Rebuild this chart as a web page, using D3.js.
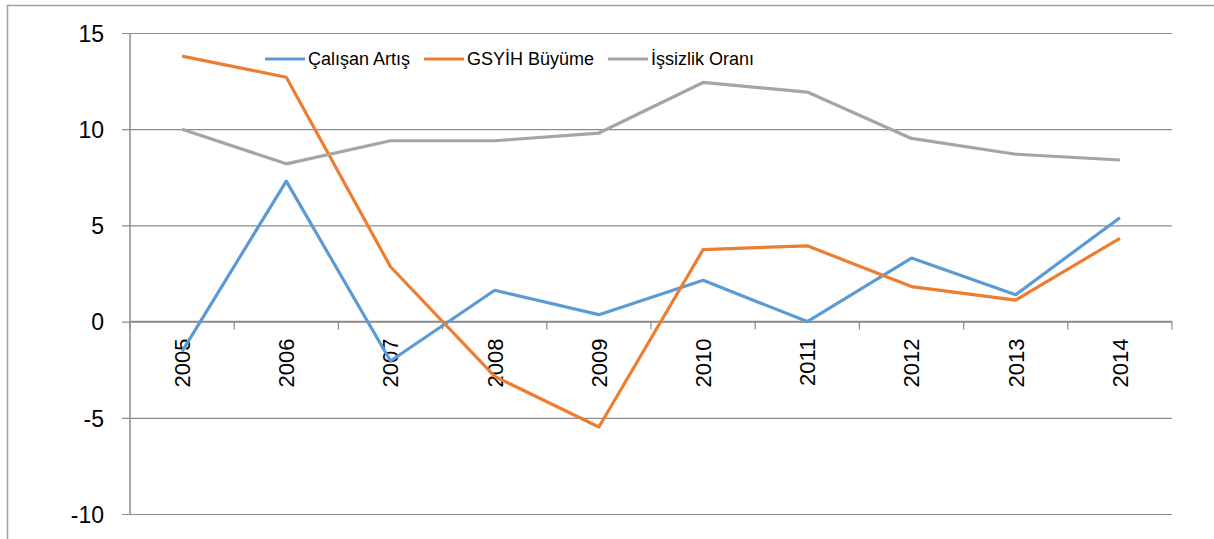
<!DOCTYPE html>
<html>
<head>
<meta charset="utf-8">
<script src="https://cdn.jsdelivr.net/npm/d3@7"></script>
<style>
  body { margin: 0; background: #fff; }
  svg text { font-family: "Liberation Sans", Arial, sans-serif; fill: #000; }
</style>
</head>
<body>
<svg id="chart" width="1214" height="539"></svg>
<script>
// data
var years = ["2005", "2006", "2007", "2008", "2009", "2010", "2011", "2012", "2013", "2014"];
var calisanArtis = [-1.55, 7.3, -2.05, 1.63, 0.36, 2.15, 0.0, 3.3, 1.4, 5.4];
var gsyihBuyume = [13.8, 12.7, 2.85, -2.85, -5.48, 3.74, 3.94, 1.82, 1.12, 4.33];
var issizlikOrani = [10.0, 8.2, 9.4, 9.4, 9.8, 12.43, 11.93, 9.52, 8.7, 8.4];
var yTicks = [-10, -5, 0, 5, 10, 15];

var seriesNames = ["Çalışan Artış", "GSYİH Büyüme", "İşsizlik Oranı"];
var seriesColors = ["#5B9BD5", "#ED7D31", "#A5A5A5"];
var seriesValues = [calisanArtis, gsyihBuyume, issizlikOrani];

var svg = d3.select("#chart");

// chart border (clipped at right / bottom like the screenshot)
svg.append("rect")
  .attr("x", 7.5).attr("y", 5.5)
  .attr("width", 1250).attr("height", 600)
  .attr("fill", "none")
  .attr("stroke", "#a0a0a0")
  .attr("stroke-width", 1.5);

var plot = {left: 130, right: 1172, top: 33, bottom: 514};

var x = d3.scaleBand()
  .domain(years)
  .range([plot.left, plot.right]);

var y = d3.scaleLinear()
  .domain([-10, 15])
  .range([plot.bottom, plot.top]);

// gridlines + y axis ticks
var yAxis = d3.axisLeft(y)
  .tickValues(yTicks)
  .tickSize(plot.right - plot.left + 8)
  .tickFormat(function(d) { return String(d); });

var gy = svg.append("g")
  .attr("transform", "translate(" + plot.right + ",0)")
  .call(yAxis);
gy.select(".domain").remove();
gy.selectAll(".tick line")
  .attr("stroke", "#8c8c8c")
  .attr("stroke-width", 1.2);
gy.selectAll(".tick text")
  .attr("x", -(plot.right - plot.left) - 26)
  .attr("dy", "0.36em")
  .style("font-size", "23px");

// vertical axis line
svg.append("line")
  .attr("x1", plot.left).attr("x2", plot.left)
  .attr("y1", y(15)).attr("y2", y(-10))
  .attr("stroke", "#8c8c8c")
  .attr("stroke-width", 1.5);

// category axis sits on zero
var zeroY = y(0);
var bounds = years.map(function(d) { return x(d); }).concat([plot.right]);
svg.append("g").selectAll("line")
  .data(bounds)
  .enter().append("line")
  .attr("x1", function(d) { return d; })
  .attr("x2", function(d) { return d; })
  .attr("y1", zeroY)
  .attr("y2", zeroY + 8)
  .attr("stroke", "#8c8c8c")
  .attr("stroke-width", 1.2);

svg.append("line")
  .attr("x1", plot.left).attr("x2", plot.right)
  .attr("y1", zeroY).attr("y2", zeroY)
  .attr("stroke", "#8c8c8c")
  .attr("stroke-width", 1.5);

svg.append("g").selectAll("text")
  .data(years)
  .enter().append("text")
  .attr("transform", function(d) {
    return "translate(" + (x(d) + x.bandwidth() / 2) + "," + (zeroY + 17) + ") rotate(-90)";
  })
  .attr("dy", "0.36em")
  .attr("text-anchor", "end")
  .style("font-size", "22px")
  .text(function(d) { return d; });

// lines
var line = d3.line()
  .x(function(d, i) { return x(years[i]) + x.bandwidth() / 2; })
  .y(function(d) { return y(d); });

seriesValues.forEach(function(vals, k) {
  svg.append("path")
    .datum(vals)
    .attr("d", line)
    .attr("fill", "none")
    .attr("stroke", seriesColors[k])
    .attr("stroke-width", 3.2)
    .attr("stroke-linejoin", "round");
});

// legend
var legend = svg.append("g").attr("class", "legend");
var lx = 265, ly = 59;
seriesNames.forEach(function(name, k) {
  legend.append("line")
    .attr("x1", lx).attr("x2", lx + 40)
    .attr("y1", ly).attr("y2", ly)
    .attr("stroke", seriesColors[k])
    .attr("stroke-width", 3.2);
  var t = legend.append("text")
    .attr("x", lx + 43)
    .attr("y", ly)
    .attr("dy", "0.36em")
    .style("font-size", "18px")
    .text(name);
  lx = lx + 43 + t.node().getComputedTextLength() + 14;
});
</script>
</body>
</html>
